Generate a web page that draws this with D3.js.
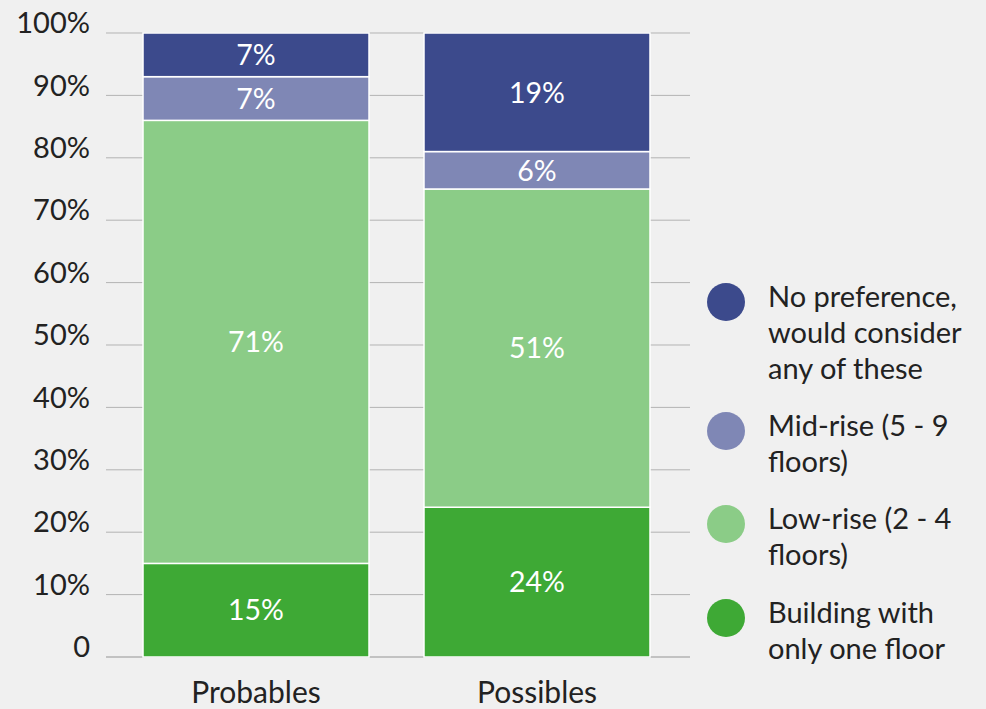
<!DOCTYPE html>
<html>
<head>
<meta charset="utf-8">
<script src="https://cdn.jsdelivr.net/npm/d3@7"></script>
<style>
  html, body { margin: 0; padding: 0; background: #f0f0f0; }
  svg { display: block; font-family: Lato, "Open Sans", sans-serif; }
</style>
</head>
<body>
<svg id="chart" width="986" height="709"></svg>
<script>
// Survey groups and housing preference shares (%)
const groups = ["Probables", "Possibles"];
const seriesNames = [
  "Building with only one floor",
  "Low-rise (2 - 4 floors)",
  "Mid-rise (5 - 9 floors)",
  "No preference, would consider any of these"
];
const oneFloor   = [15, 24];
const lowRise    = [71, 51];
const midRise    = [7, 6];
const noPref     = [7, 19];
const yTicks = [0, 10, 20, 30, 40, 50, 60, 70, 80, 90, 100];
const legendLines = [
  ["No preference,", "would consider", "any of these"],
  ["Mid-rise (5 - 9", "floors)"],
  ["Low-rise (2 - 4", "floors)"],
  ["Building with", "only one floor"]
];
const colors = ["#3ea935", "#8bcc87", "#7f87b5", "#3c4a8c"];

const svg = d3.select("#chart");

const x = d3.scaleBand()
  .domain(groups)
  .range([115.5, 677.5])
  .paddingInner(0.1957)
  .paddingOuter(0.0979);

const y = d3.scaleLinear().domain([0, 100]).range([657, 33]);

// Gridlines
svg.append("g")
  .selectAll("line")
  .data(yTicks)
  .join("line")
  .attr("x1", 106).attr("x2", 690)
  .attr("y1", d => y(d)).attr("y2", d => y(d))
  .attr("stroke", "#b3b3b3")
  .attr("stroke-width", d => d === 0 ? 1.5 : 1);

// Y tick labels
svg.append("g")
  .selectAll("text")
  .data(yTicks)
  .join("text")
  .attr("x", 90)
  .attr("y", d => y(d) - 10)
  .attr("dy", "0.35em")
  .attr("text-anchor", "end")
  .attr("fill", "#222")
  .style("font-size", "29px")
  .text(d => d === 0 ? "0" : d + "%");

// Stack the series
const rows = groups.map((g, i) => ({
  group: g,
  s0: oneFloor[i], s1: lowRise[i], s2: midRise[i], s3: noPref[i]
}));
const stack = d3.stack().keys(["s0", "s1", "s2", "s3"]);
const layers = stack(rows);

const layerG = svg.append("g")
  .selectAll("g")
  .data(layers)
  .join("g")
  .attr("fill", (d, i) => colors[i]);

layerG.selectAll("rect")
  .data(d => d)
  .join("rect")
  .attr("x", d => x(d.data.group))
  .attr("width", x.bandwidth())
  .attr("y", d => y(d[1]))
  .attr("height", d => y(d[0]) - y(d[1]))
  .attr("stroke", "#ffffff")
  .attr("stroke-width", 1.5);

// Segment value labels
layerG.selectAll("text")
  .data((d) => d.map(p => ({ p, key: d.key })))
  .join("text")
  .attr("x", d => x(d.p.data.group) + x.bandwidth() / 2)
  .attr("y", d => (y(d.p[0]) + y(d.p[1])) / 2)
  .attr("dy", "0.36em")
  .attr("text-anchor", "middle")
  .attr("fill", "#ffffff")
  .style("font-size", "28.5px")
  .text(d => (d.p[1] - d.p[0]) + "%");

// Category labels
svg.append("g")
  .selectAll("text")
  .data(groups)
  .join("text")
  .attr("x", d => x(d) + x.bandwidth() / 2)
  .attr("y", 703)
  .attr("text-anchor", "middle")
  .attr("fill", "#222")
  .style("font-size", "30px")
  .text(d => d);

// Legend
const legendCy = [302, 431, 524, 618];
const legendColors = [colors[3], colors[2], colors[1], colors[0]];
const legend = svg.append("g")
  .selectAll("g")
  .data(legendLines)
  .join("g");

legend.append("circle")
  .attr("cx", 726)
  .attr("cy", (d, i) => legendCy[i])
  .attr("r", 19)
  .attr("fill", (d, i) => legendColors[i]);

legend.append("text")
  .attr("x", 768)
  .attr("y", (d, i) => legendCy[i] + 5)
  .attr("fill", "#222")
  .style("font-size", "29px")
  .selectAll("tspan")
  .data(d => d)
  .join("tspan")
  .attr("x", 768)
  .attr("dy", (d, j) => j === 0 ? 0 : 36)
  .text(d => d);
</script>
</body>
</html>
